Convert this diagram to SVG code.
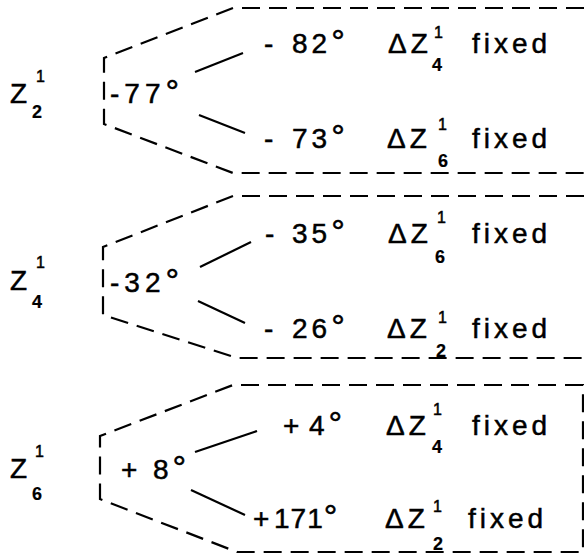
<svg xmlns="http://www.w3.org/2000/svg" width="584" height="554" viewBox="0 0 584 554">
<style>
text{font-family:"Liberation Sans",Arial,sans-serif;fill:#000;stroke:#000;stroke-width:0.5}
.t{font-size:28px;letter-spacing:4px}
.sub{font-size:18px;font-weight:bold;stroke-width:0.2}
.sup{font-size:16px}
.deg{font-size:34px}
.dash{fill:none;stroke:#000;stroke-width:2.2;stroke-dasharray:18 9}
.ln{fill:none;stroke:#000;stroke-width:2.2}
</style>
<rect width="584" height="554" fill="#fff"/>
<g id="connectors">
<path class="dash" d="M584,8 H233 L104,58 V124 L233,173 H584"/>
<path class="dash" d="M584,196 H233 L103,247 V315 L237,358 H584"/>
<path class="dash" d="M583,385 H233 L100,436 V499 L237,552 H583 Z"/>
<line class="ln" x1="195" y1="72" x2="243" y2="53"/>
<line class="ln" x1="199" y1="115" x2="245" y2="133"/>
<line class="ln" x1="200" y1="267" x2="251" y2="242"/>
<line class="ln" x1="198" y1="301" x2="245" y2="323"/>
<line class="ln" x1="195" y1="452" x2="257" y2="431"/>
<line class="ln" x1="191" y1="490" x2="245" y2="515"/>
</g>
<g id="z2">
<text class="t" x="10" y="103">Z</text><text class="sub" x="32" y="118">2</text><text class="sup" x="36" y="82">1</text>
<text class="t" x="110" y="103" style="letter-spacing:5px">-77<tspan class="deg">°</tspan></text>
</g>
<g id="z2-r1">
<text class="t" x="264" y="53">-<tspan x="292">82<tspan class="deg">°</tspan></tspan></text>
<text class="t" x="388" y="53">ΔZ</text><text class="sub" x="432" y="71">4</text><text class="sup" x="434" y="38">1</text>
<text class="t" x="472" y="53">fixed</text>
</g>
<g id="z2-r2">
<text class="t" x="264" y="148">-<tspan x="292">73<tspan class="deg">°</tspan></tspan></text>
<text class="t" x="387" y="148">ΔZ</text><text class="sub" x="438" y="167">6</text><text class="sup" x="438" y="130">1</text>
<text class="t" x="472" y="148">fixed</text>
</g>
<g id="z4">
<text class="t" x="10" y="290">Z</text><text class="sub" x="32" y="308">4</text><text class="sup" x="36" y="268">1</text>
<text class="t" x="110" y="292" style="letter-spacing:5px">-32<tspan class="deg">°</tspan></text>
</g>
<g id="z4-r1">
<text class="t" x="265" y="243">-<tspan x="292">35<tspan class="deg">°</tspan></tspan></text>
<text class="t" x="388" y="243">ΔZ</text><text class="sub" x="435" y="263">6</text><text class="sup" x="437" y="223">1</text>
<text class="t" x="472" y="243">fixed</text>
</g>
<g id="z4-r2">
<text class="t" x="264" y="338">-<tspan x="292">26<tspan class="deg">°</tspan></tspan></text>
<text class="t" x="387" y="338">ΔZ</text><text class="sub" x="436" y="357">2</text><text class="sup" x="438" y="323">1</text>
<text class="t" x="472" y="338">fixed</text>
</g>
<g id="z6">
<text class="t" x="10" y="478">Z</text><text class="sub" x="32" y="500">6</text><text class="sup" x="35" y="457">1</text>
<text class="t" x="121" y="479">+<tspan x="153">8<tspan class="deg">°</tspan></tspan></text>
</g>
<g id="z6-r1">
<text class="t" x="283" y="435">+<tspan x="309">4<tspan class="deg">°</tspan></tspan></text>
<text class="t" x="386" y="435">ΔZ</text><text class="sub" x="432" y="453">4</text><text class="sup" x="433" y="415">1</text>
<text class="t" x="472" y="435">fixed</text>
</g>
<g id="z6-r2">
<text class="t" x="253" y="528">+<tspan x="274" style="letter-spacing:1px">171<tspan class="deg">°</tspan></tspan></text>
<text class="t" x="385" y="528">ΔZ</text><text class="sub" x="433" y="550">2</text><text class="sup" x="433" y="512">1</text>
<text class="t" x="468" y="528">fixed</text>
</g>
</svg>
